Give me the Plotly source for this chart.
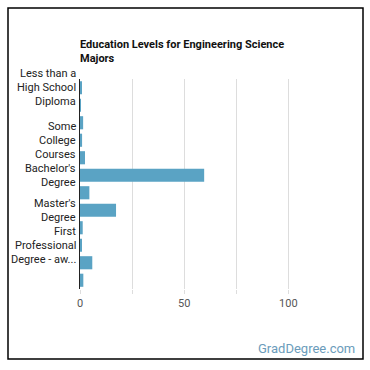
import plotly.graph_objects as go

categories = [
    "Less than a High School Diploma",
    "High School Diploma",
    "Post-Secondary Certificate",
    "Some College Courses",
    "Associate's Degree",
    "Bachelor's Degree",
    "Post-Baccalaureate Certificate",
    "Master's Degree",
    "Post-Master's Certificate",
    "First Professional Degree - awarded for completion of a program",
    "Doctoral Degree",
    "Post-Doctoral Training",
]
values = [0.5, 0.3, 1.5, 1.0, 2.4, 59.6, 4.5, 17.3, 1.3, 0.5, 5.9, 1.6]

shown_idx = [0, 3, 5, 7, 9]
shown_lines = [
    ["Less than a", "High School", "Diploma"],
    ["Some", "College", "Courses"],
    ["Bachelor's", "Degree"],
    ["Master's", "Degree"],
    ["First", "Professional", "Degree - aw..."],
]
x_ticks = [0, 25, 50, 75, 100]
x_text = ["0", "", "50", "", "100"]

W, H = 370, 370
L, R, T, B = 80, 40, 79, 81
pw, ph = W - L - R, H - T - B
LINE_H = 14

def px_x(p):
    return (p - L) / pw

def px_y(p):
    return (H - B - p) / ph

fig = go.Figure(go.Bar(
    x=values, y=categories, orientation="h",
    marker=dict(color="#5aa3c4", line=dict(width=0)),
    hoverinfo="skip",
))

annotations = []
for i, lines in zip(shown_idx, shown_lines):
    n = len(lines)
    for k, ln in enumerate(lines):
        off = (k - (n - 1) / 2) * LINE_H
        annotations.append(dict(
            text=ln, xref="paper", yref="y", x=0, y=categories[i],
            xanchor="right", yanchor="middle", align="right",
            xshift=-2, yshift=-off,
            showarrow=False, font=dict(size=11, color="#222"),
        ))
annotations += [
    dict(
        text="<b>Education Levels for Engineering Science<br>Majors</b>",
        xref="paper", yref="paper", x=px_x(78), y=px_y(36),
        xanchor="left", yanchor="top", align="left", showarrow=False,
        font=dict(size=11, color="#111"),
    ),
    dict(
        text="GradDegree.com",
        xref="paper", yref="paper", x=px_x(357), y=px_y(348),
        xanchor="right", yanchor="middle", showarrow=False,
        font=dict(size=13, color="#6b9cbb"),
    ),
]

fig.update_layout(
    width=W, height=H,
    margin=dict(l=L, r=R, t=T, b=B, autoexpand=False),
    paper_bgcolor="white", plot_bgcolor="white",
    bargap=0.25,
    showlegend=False,
    font=dict(family="Roboto, sans-serif", size=11, color="#222"),
    xaxis=dict(
        range=[0, 120], tickvals=x_ticks, ticktext=x_text,
        showgrid=True, gridcolor="#dddddd", gridwidth=1,
        zeroline=False, ticks="outside", ticklen=4, tickcolor="#dddddd",
        tickfont=dict(size=11, color="#555"), fixedrange=True,
    ),
    yaxis=dict(
        categoryorder="array", categoryarray=categories,
        range=[len(categories) - 0.5, -0.5], autorange=False,
        showticklabels=False,
        showline=True, linecolor="#222", linewidth=1,
        ticks="", showgrid=False, fixedrange=True,
    ),
    shapes=[dict(
        type="rect", xref="paper", yref="paper",
        x0=px_x(8), x1=px_x(363), y0=px_y(359), y1=px_y(8),
        line=dict(color="black", width=1.5), fillcolor="rgba(0,0,0,0)",
    )],
    annotations=annotations,
)

fig.write_html("out.html")
